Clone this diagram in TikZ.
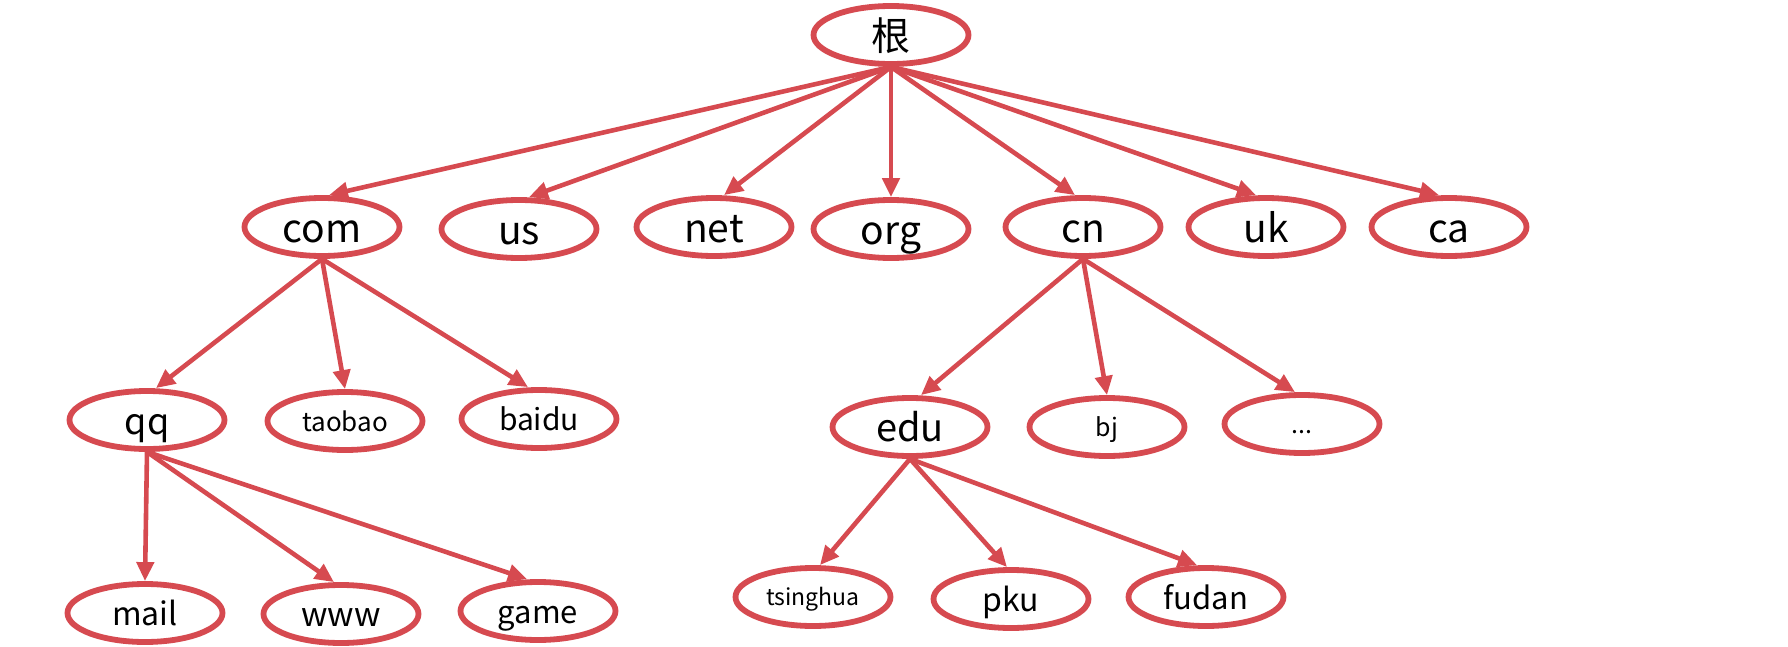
\documentclass[tikz,border=0pt]{standalone}
\usepackage{fontspec}
\setmainfont{Noto Sans CJK SC}
\usetikzlibrary{shapes.geometric,arrows.meta,calc}
\definecolor{dnsred}{RGB}{214,74,80}
\begin{document}
\begin{tikzpicture}[x=0.5pt,y=-0.5pt,
  dom/.style={ellipse,draw=dnsred,line width=2.9pt,minimum width=77.5pt,minimum height=29pt,inner sep=0pt,text=black},
  link/.style={draw=dnsred,line width=2.3pt,-{Triangle[length=9.5pt,width=8.5pt]}},
  fs/.style={font=\fontsize{#1}{#1}\selectfont,text height={0.78*#1pt},text depth=0pt}
]
\useasboundingbox (0,0) rectangle (1788,647);
% level 0
\node[dom,fs=19.5] (root) at (891,35) {根};
% level 1
\node[dom,fs=19.5] (com) at (322,227) {com};
\node[dom,fs=19.5] (us)  at (519,229) {us};
\node[dom,fs=19.5] (net) at (714,227) {net};
\node[dom,fs=19.5] (org) at (891,229) {org};
\node[dom,fs=19.5] (cn)  at (1083,227) {cn};
\node[dom,fs=19.5] (uk)  at (1266,227) {uk};
\node[dom,fs=19.5] (ca)  at (1449,227) {ca};
% level 2
\node[dom,fs=18] (qq)     at (147,420) {qq};
\node[dom,fs=13] (taobao) at (345,421) {taobao};
\node[dom,fs=15] (baidu)  at (539,419) {baidu};
\node[dom,fs=19] (edu)    at (910,427) {edu};
\node[dom,fs=12.5] (bj)   at (1107,427) {bj};
\node[dom,fs=12.5] (dots) at (1302,424) {...};
% level 3
\node[dom,fs=16] (mail)   at (145,613) {mail};
\node[dom,fs=16.5] (www)  at (341,614) {www};
\node[dom,fs=15.5] (game) at (538,611) {game};
\node[dom,fs=11.5] (tsinghua) at (813,597) {tsinghua};
\node[dom,fs=16] (pku)    at (1011,599) {pku};
\node[dom,fs=15.5] (fudan) at (1206,597) {fudan};
% connectors
\draw[link] (root.south) -- ($(com.north)+(7,0)$);
\draw[link] (root.south) -- ($(us.north)+(10,0)$);
\draw[link] (root.south) -- ($(net.north)+(10,0)$);
\draw[link] (root.south) -- (org.north);
\draw[link] (root.south) -- ($(cn.north)+(-8,0)$);
\draw[link] (root.south) -- ($(uk.north)+(-10,0)$);
\draw[link] (root.south) -- ($(ca.north)+(-10,0)$);
\draw[link] (com.south) -- ($(qq.north)+(9,0)$);
\draw[link] (com.south) -- (taobao.north);
\draw[link] (com.south) -- ($(baidu.north)+(-11,0)$);
\draw[link] (qq.south) -- (mail.north);
\draw[link] (qq.south) -- ($(www.north)+(-7,0)$);
\draw[link] (qq.south) -- ($(game.north)+(-11,0)$);
\draw[link] (cn.south) -- ($(edu.north)+(11,0)$);
\draw[link] (cn.south) -- (bj.north);
\draw[link] (cn.south) -- ($(dots.north)+(-7,0)$);
\draw[link] (edu.south) -- ($(tsinghua.north)+(7,0)$);
\draw[link] (edu.south) -- ($(pku.north)+(-4,0)$);
\draw[link] (edu.south) -- ($(fudan.north)+(-9,0)$);
\end{tikzpicture}
\end{document}
